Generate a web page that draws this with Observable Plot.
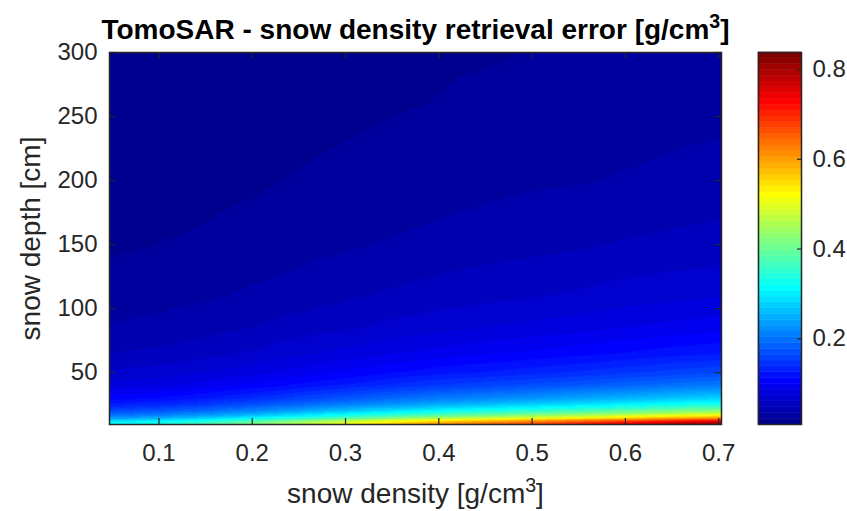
<!DOCTYPE html>
<html>
<head>
<meta charset="utf-8">
<script src="https://cdn.jsdelivr.net/npm/d3@7"></script>
<script src="https://cdn.jsdelivr.net/npm/@observablehq/plot@0.6"></script>
<style>
  body { margin: 0; background: #ffffff; }
  #chart { position: relative; width: 847px; height: 511px; overflow: hidden; background: #ffffff; }
  #chart svg { position: absolute; top: 0; }
</style>
</head>
<body>
<div id="chart"></div>
<script>
// ---- data ----
// first and last columns are read at the left and right edges of the image
const densities = [0.047, 0.1, 0.15, 0.2, 0.25, 0.3, 0.35, 0.4, 0.45, 0.5, 0.55, 0.6, 0.65, 0.703];
const depths = [9.5, 12, 14.5, 17, 20, 25, 30, 40, 50, 65, 85, 110, 150, 200, 250, 300];
// retrieval error [g/cm3], one row per depth, one column per density
const errorGrid = [
  [0.320, 0.340, 0.375, 0.420, 0.470, 0.520, 0.570, 0.615, 0.650, 0.685, 0.720, 0.760, 0.800, 0.835],
  [0.290, 0.308, 0.339, 0.380, 0.425, 0.471, 0.516, 0.557, 0.588, 0.620, 0.652, 0.688, 0.724, 0.756],
  [0.234, 0.249, 0.274, 0.307, 0.344, 0.380, 0.417, 0.450, 0.475, 0.501, 0.526, 0.556, 0.585, 0.610],
  [0.196, 0.208, 0.230, 0.257, 0.288, 0.319, 0.349, 0.377, 0.398, 0.420, 0.441, 0.466, 0.490, 0.512],
  [0.164, 0.175, 0.193, 0.216, 0.242, 0.267, 0.293, 0.316, 0.334, 0.352, 0.370, 0.391, 0.411, 0.429],
  [0.129, 0.137, 0.152, 0.170, 0.190, 0.210, 0.230, 0.248, 0.263, 0.277, 0.291, 0.307, 0.323, 0.337],
  [0.107, 0.113, 0.125, 0.140, 0.157, 0.173, 0.190, 0.205, 0.216, 0.228, 0.240, 0.253, 0.266, 0.278],
  [0.079, 0.084, 0.093, 0.104, 0.116, 0.128, 0.141, 0.152, 0.161, 0.169, 0.178, 0.188, 0.198, 0.206],
  [0.063, 0.067, 0.074, 0.082, 0.092, 0.102, 0.112, 0.121, 0.127, 0.134, 0.141, 0.149, 0.157, 0.164],
  [0.048, 0.051, 0.056, 0.063, 0.071, 0.078, 0.086, 0.092, 0.098, 0.103, 0.108, 0.114, 0.120, 0.125],
  [0.036, 0.039, 0.043, 0.048, 0.054, 0.059, 0.065, 0.070, 0.074, 0.078, 0.082, 0.087, 0.091, 0.095],
  [0.028, 0.030, 0.033, 0.037, 0.041, 0.046, 0.050, 0.054, 0.057, 0.060, 0.063, 0.067, 0.070, 0.073],
  [0.020, 0.022, 0.024, 0.027, 0.030, 0.033, 0.036, 0.039, 0.042, 0.044, 0.046, 0.049, 0.051, 0.053],
  [0.015, 0.016, 0.018, 0.020, 0.023, 0.025, 0.027, 0.029, 0.031, 0.033, 0.034, 0.036, 0.038, 0.040],
  [0.012, 0.013, 0.014, 0.016, 0.018, 0.020, 0.022, 0.023, 0.025, 0.026, 0.028, 0.029, 0.031, 0.032],
  [0.010, 0.011, 0.012, 0.013, 0.015, 0.017, 0.018, 0.020, 0.021, 0.022, 0.023, 0.024, 0.025, 0.027]
];
const xTicks = [0.1, 0.2, 0.3, 0.4, 0.5, 0.6, 0.7];
const yTicks = [50, 100, 150, 200, 250, 300];
const colorTicks = [0.2, 0.4, 0.6, 0.8];
const xDomain = [0.047, 0.703];
const yDomain = [9.5, 300];
const colorDomain = [0.009, 0.838];
const titleText = "TomoSAR - snow density retrieval error [g/cm³]";
const xLabel = "snow density [g/cm³]";
const yLabel = "snow depth [cm]";

// ---- styling ----
const FONT = "'Liberation Sans', Arial, Helvetica, sans-serif";
const AX = "#262626";
const TICK_FS = 24, LABEL_FS = 28, TITLE_FS = 28;
const mainW = 740, H = 511;
const mL = 109, mR = 19, mT = 52, mB = 87;
const frameW = mainW - mL - mR, frameH = H - mT - mB;
const tickLen = 6;

// MATLAB jet colormap, 64 levels
function jet(t) {
  const c = v => Math.max(0, Math.min(1, v));
  return d3.rgb(
    255 * c(Math.min(4 * t - 1.5, -4 * t + 4.5)),
    255 * c(Math.min(4 * t - 0.5, -4 * t + 3.5)),
    255 * c(Math.min(4 * t + 0.5, -4 * t + 2.5))
  ).formatHex();
}
const nLevels = 64;
const jet64 = d3.range(1, nLevels + 1).map(i => jet(i / nLevels));
const step = (colorDomain[1] - colorDomain[0]) / nLevels;
const thresholds = d3.range(1, nLevels).map(i => colorDomain[0] + i * step);
const colorScale = {type: "threshold", domain: thresholds, range: jet64};

const cells = depths.flatMap((d, i) => densities.map((r, j) => ({density: r, depth: d, err: errorGrid[i][j]})));

const main = Plot.plot({
  width: mainW, height: H,
  marginLeft: mL, marginRight: mR, marginTop: mT, marginBottom: mB,
  style: {fontFamily: FONT, fontSize: TICK_FS + "px", color: AX, background: "transparent", overflow: "visible"},
  x: {domain: xDomain},
  y: {domain: yDomain},
  color: colorScale,
  marks: [
    Plot.raster(cells, {x: "density", y: "depth", fill: "err", interpolate: "barycentric",
      x1: xDomain[0], x2: xDomain[1], y1: yDomain[0], y2: yDomain[1]}),
    // inward ticks on all four sides
    Plot.tickX(xTicks, {x: d => d, stroke: AX, strokeWidth: 1.2, insetTop: frameH - tickLen}),
    Plot.tickX(xTicks, {x: d => d, stroke: AX, strokeWidth: 1.2, insetBottom: frameH - tickLen}),
    Plot.tickY(yTicks, {y: d => d, stroke: AX, strokeWidth: 1.2, insetRight: frameW - tickLen}),
    Plot.tickY(yTicks, {y: d => d, stroke: AX, strokeWidth: 1.2, insetLeft: frameW - tickLen}),
    Plot.frame({stroke: AX, strokeWidth: 1.5}),
    Plot.axisX(xTicks, {tickSize: 0, tickPadding: 19, label: null, fontSize: TICK_FS, fill: AX, tickFormat: d => d.toFixed(1)}),
    Plot.axisY(yTicks, {tickSize: 0, tickPadding: 12, label: null, fontSize: TICK_FS, fill: AX}),
    Plot.text([titleText], {text: d => d, frameAnchor: "top", dy: -22, lineAnchor: "middle", textAnchor: "middle",
      fontSize: TITLE_FS, fontWeight: "bold", fill: "#000000"}),
    Plot.text([xLabel], {text: d => d, frameAnchor: "bottom", dy: 70, lineAnchor: "middle", textAnchor: "middle",
      fontSize: LABEL_FS, fill: AX}),
    Plot.text([yLabel], {text: d => d, frameAnchor: "left", dx: -78, rotate: -90, lineAnchor: "middle", textAnchor: "middle",
      fontSize: LABEL_FS, fill: AX})
  ]
});
main.style.left = "0px";

// render the cubed unit as a raised superscript, as in the reference
d3.select(main).selectAll("text").each(function () {
  const t = this.textContent;
  if (!t.includes("cm³")) return;
  const [before, after] = t.split("³");
  const fs = parseFloat(this.getAttribute("font-size")) || (t === titleText ? TITLE_FS : LABEL_FS);
  const sel = d3.select(this);
  sel.text(null);
  sel.append("tspan").text(before);
  sel.append("tspan").attr("dy", -0.42 * fs).attr("font-size", 0.7 * fs).text("3");
  sel.append("tspan").attr("dy", 0.42 * fs).text(after);
});

// ---- vertical colorbar ----
const cbW = 107, cbL = 18, cbR = 46;
const cbFrameW = cbW - cbL - cbR;
const levels = d3.range(nLevels).map(i => ({
  lo: colorDomain[0] + i * step,
  hi: colorDomain[0] + (i + 1) * step,
  mid: colorDomain[0] + (i + 0.5) * step
}));
const bar = Plot.plot({
  width: cbW, height: H,
  marginLeft: cbL, marginRight: cbR, marginTop: mT, marginBottom: mB,
  style: {fontFamily: FONT, fontSize: TICK_FS + "px", color: AX, background: "transparent", overflow: "visible"},
  y: {domain: colorDomain},
  color: colorScale,
  marks: [
    Plot.rect(levels, {y1: "lo", y2: "hi", fill: "mid", stroke: "mid", strokeWidth: 0.5}),
    Plot.tickY(colorTicks, {y: d => d, stroke: AX, strokeWidth: 1.2, insetLeft: cbFrameW - 4}),
    Plot.frame({stroke: AX, strokeWidth: 1.5}),
    Plot.axisY(colorTicks, {anchor: "right", tickSize: 0, tickPadding: 11, label: null,
      fontSize: TICK_FS, fill: AX, tickFormat: d => d.toFixed(1)})
  ]
});
bar.style.left = mainW + "px";

const chart = document.getElementById("chart");
chart.appendChild(main);
chart.appendChild(bar);
</script>
</body>
</html>
